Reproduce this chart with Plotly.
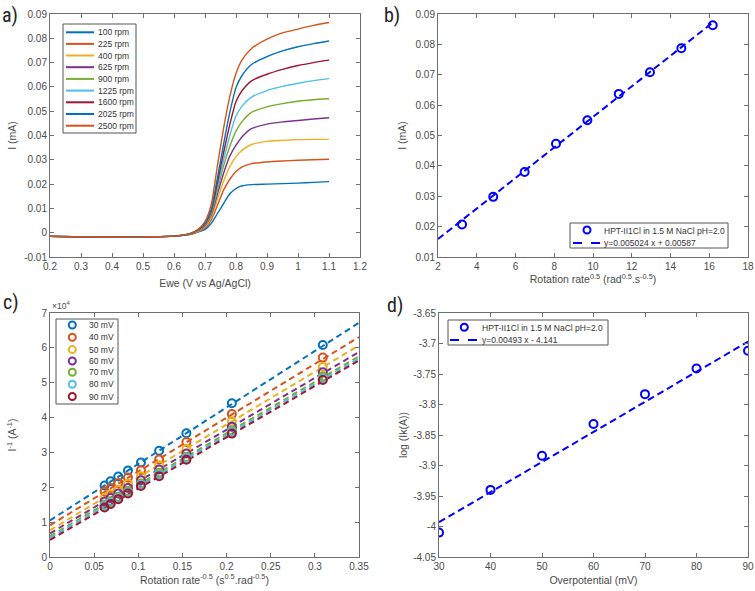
import plotly.graph_objects as go

W, H = 755, 591

# ---------------- Panel a data: LSV curves ----------------
ewe = [0.2, 0.35, 0.5, 0.6, 0.65, 0.68, 0.70, 0.72, 0.74, 0.76, 0.78, 0.80, 0.82, 0.85, 0.9, 0.95, 1.0, 1.05, 1.1]
rpm_labels = ["100 rpm", "225 rpm", "400 rpm", "625 rpm", "900 rpm", "1225 rpm", "1600 rpm", "2025 rpm", "2500 rpm"]
i_100  = [-0.0015, -0.0018, -0.0017, -0.0014, -0.0008, 0.0004, 0.0014, 0.0038, 0.0079, 0.0120, 0.0160, 0.0182, 0.0193, 0.0198, 0.0200, 0.0202, 0.0204, 0.0207, 0.0210]
i_225  = [-0.0015, -0.0018, -0.0017, -0.0014, -0.0007, 0.0006, 0.0020, 0.0052, 0.0112, 0.0175, 0.0220, 0.0252, 0.0271, 0.0284, 0.0291, 0.0295, 0.0298, 0.0300, 0.0302]
i_400  = [-0.0015, -0.0018, -0.0017, -0.0014, -0.0007, 0.0008, 0.0025, 0.0062, 0.0138, 0.0212, 0.0272, 0.0313, 0.0340, 0.0363, 0.0376, 0.0380, 0.0383, 0.0384, 0.0384]
i_625  = [-0.0015, -0.0018, -0.0017, -0.0014, -0.0006, 0.0010, 0.0030, 0.0072, 0.0158, 0.0245, 0.0315, 0.0360, 0.0395, 0.0428, 0.0447, 0.0456, 0.0462, 0.0468, 0.0473]
i_900  = [-0.0015, -0.0018, -0.0017, -0.0014, -0.0006, 0.0011, 0.0033, 0.0078, 0.0175, 0.0275, 0.0355, 0.0418, 0.0458, 0.0495, 0.0518, 0.0531, 0.0541, 0.0547, 0.0551]
i_1225 = [-0.0015, -0.0018, -0.0017, -0.0014, -0.0005, 0.0012, 0.0035, 0.0083, 0.0190, 0.0300, 0.0400, 0.0480, 0.0522, 0.0558, 0.0585, 0.0602, 0.0615, 0.0626, 0.0634]
i_1600 = [-0.0015, -0.0018, -0.0017, -0.0014, -0.0005, 0.0013, 0.0038, 0.0088, 0.0205, 0.0330, 0.0445, 0.0540, 0.0585, 0.0625, 0.0652, 0.0672, 0.0688, 0.0700, 0.0710]
i_2025 = [-0.0015, -0.0018, -0.0017, -0.0014, -0.0005, 0.0014, 0.0040, 0.0095, 0.0225, 0.0365, 0.0495, 0.0597, 0.0648, 0.0692, 0.0725, 0.0748, 0.0765, 0.0778, 0.0789]
i_2500 = [-0.0015, -0.0018, -0.0017, -0.0014, -0.0004, 0.0016, 0.0046, 0.0115, 0.0275, 0.0430, 0.0560, 0.0655, 0.0712, 0.0758, 0.0797, 0.0822, 0.0838, 0.0853, 0.0865]
lsv_curves = [i_100, i_225, i_400, i_625, i_900, i_1225, i_1600, i_2025, i_2500]
lsv_colors = ["#0072BD", "#D95319", "#EDB120", "#7E2F8E", "#77AC30", "#4DBEEE", "#A2142F", "#0072BD", "#D95319"]

# ---------------- Panel b data: Levich ----------------
rot_sqrt = [3.24, 4.85, 6.47, 8.09, 9.71, 11.33, 12.94, 14.56, 16.18]
i_lim = [0.0207, 0.0298, 0.0380, 0.0473, 0.0550, 0.0637, 0.0708, 0.0787, 0.0863]
levich_fit_x = [2.0, 16.2]
levich_fit_y = [0.0159, 0.0873]
legend_b = ["HPT-II1Cl in 1.5 M NaCl pH=2.0", "y=0.005024 x + 0.00587"]

# ---------------- Panel c data: Koutecky-Levich (units of 1e4 A^-1) ----------------
rot_inv_sqrt = [0.309, 0.206, 0.1545, 0.1236, 0.103, 0.0883, 0.0773, 0.0687, 0.0618]
kl_labels = ["30 mV", "40 mV", "50 mV", "60 mV", "70 mV", "80 mV", "90 mV"]
kl_30 = [6.08, 4.41, 3.55, 3.05, 2.71, 2.48, 2.31, 2.17, 2.05]
kl_40 = [5.72, 4.10, 3.30, 2.80, 2.49, 2.28, 2.12, 1.98, 1.88]
kl_50 = [5.45, 3.89, 3.10, 2.63, 2.32, 2.10, 1.93, 1.80, 1.70]
kl_60 = [5.30, 3.74, 2.97, 2.51, 2.20, 1.98, 1.82, 1.69, 1.59]
kl_70 = [5.18, 3.63, 2.87, 2.42, 2.11, 1.89, 1.73, 1.60, 1.50]
kl_80 = [5.12, 3.59, 2.83, 2.37, 2.07, 1.85, 1.69, 1.56, 1.46]
kl_90 = [5.08, 3.54, 2.79, 2.32, 2.04, 1.82, 1.66, 1.52, 1.42]
kl_points = [kl_30, kl_40, kl_50, kl_60, kl_70, kl_80, kl_90]
kl_fit_x = [0.0, 0.35]
kl_fit_30 = [1.05, 6.72]
kl_fit_40 = [0.91, 6.31]
kl_fit_50 = [0.77, 6.07]
kl_fit_60 = [0.68, 5.88]
kl_fit_70 = [0.60, 5.76]
kl_fit_80 = [0.55, 5.70]
kl_fit_90 = [0.49, 5.64]
kl_fits = [kl_fit_30, kl_fit_40, kl_fit_50, kl_fit_60, kl_fit_70, kl_fit_80, kl_fit_90]
kl_colors = ["#0072BD", "#D95319", "#EDB120", "#7E2F8E", "#77AC30", "#4DBEEE", "#A2142F"]

# ---------------- Panel d data: Tafel ----------------
overpot = [30, 40, 50, 60, 70, 80, 90]
log_ik = [-4.010, -3.940, -3.884, -3.832, -3.783, -3.741, -3.712]
tafel_fit_x = [30, 90]
tafel_fit_y = [-3.993, -3.697]
legend_d = ["HPT-II1Cl in 1.5 M NaCl pH=2.0", "y=0.00493 x - 4.141"]

# tick labels
a_xt = [0.2, 0.3, 0.4, 0.5, 0.6, 0.7, 0.8, 0.9, 1.0, 1.1, 1.2]
a_xl = ["0.2", "0.3", "0.4", "0.5", "0.6", "0.7", "0.8", "0.9", "1", "1.1", "1.2"]
a_yt = [-0.01, 0, 0.01, 0.02, 0.03, 0.04, 0.05, 0.06, 0.07, 0.08, 0.09]
a_yl = ["-0.01", "0", "0.01", "0.02", "0.03", "0.04", "0.05", "0.06", "0.07", "0.08", "0.09"]
b_xt = [2, 4, 6, 8, 10, 12, 14, 16, 18]
b_yt = [0.01, 0.02, 0.03, 0.04, 0.05, 0.06, 0.07, 0.08, 0.09]
b_yl = ["0.01", "0.02", "0.03", "0.04", "0.05", "0.06", "0.07", "0.08", "0.09"]
c_xt = [0, 0.05, 0.1, 0.15, 0.2, 0.25, 0.3, 0.35]
c_xl = ["0", "0.05", "0.1", "0.15", "0.2", "0.25", "0.3", "0.35"]
c_yt = [0, 1, 2, 3, 4, 5, 6, 7]
d_xt = [30, 40, 50, 60, 70, 80, 90]
d_yt = [-4.05, -4.0, -3.95, -3.9, -3.85, -3.8, -3.75, -3.7, -3.65]
d_yl = ["-4.05", "-4", "-3.95", "-3.9", "-3.85", "-3.8", "-3.75", "-3.7", "-3.65"]

FONT = "Liberation Sans, Arial, sans-serif"
TICKC = "#4a4a4a"
LINEC = "#6e6e6e"

def px(x):
    return x / W

def py(y):
    return 1 - y / H

fig = go.Figure()

# Panel a
for lab, yy, col in zip(rpm_labels, lsv_curves, lsv_colors):
    fig.add_trace(go.Scatter(x=ewe, y=yy, mode="lines", name=lab,
                             line=dict(color=col, width=1.4, shape="spline", smoothing=0.6),
                             xaxis="x", yaxis="y", showlegend=False))

# Panel b
fig.add_trace(go.Scatter(x=levich_fit_x, y=levich_fit_y, mode="lines",
                         line=dict(color="#0000FF", width=2, dash="7px,4px"),
                         xaxis="x2", yaxis="y2", showlegend=False))
fig.add_trace(go.Scatter(x=rot_sqrt, y=i_lim, mode="markers",
                         marker=dict(symbol="circle-open", size=8, color="#0000FF", line=dict(width=2)),
                         xaxis="x2", yaxis="y2", showlegend=False))

# Panel c
for yy, col in zip(kl_fits, kl_colors):
    fig.add_trace(go.Scatter(x=kl_fit_x, y=yy, mode="lines",
                             line=dict(color=col, width=2, dash="6px,4px"),
                             xaxis="x3", yaxis="y3", showlegend=False))
for lab, yy, col in zip(kl_labels, kl_points, kl_colors):
    fig.add_trace(go.Scatter(x=rot_inv_sqrt, y=yy, mode="markers", name=lab,
                             marker=dict(symbol="circle-open", size=8, color=col, line=dict(width=2)),
                             xaxis="x3", yaxis="y3", showlegend=False))

# Panel d
fig.add_trace(go.Scatter(x=tafel_fit_x, y=tafel_fit_y, mode="lines",
                         line=dict(color="#0000FF", width=2, dash="7px,4px"),
                         xaxis="x4", yaxis="y4", showlegend=False))
fig.add_trace(go.Scatter(x=overpot, y=log_ik, mode="markers",
                         marker=dict(symbol="circle-open", size=8, color="#0000FF", line=dict(width=2)),
                         xaxis="x4", yaxis="y4", showlegend=False))

def axis(domain, anchor, rng, tv, tt, title, standoff):
    return dict(domain=domain, anchor=anchor, range=rng, tickvals=tv, ticktext=tt,
                showgrid=False, zeroline=False, showline=True, linecolor=LINEC, linewidth=1,
                mirror="ticks", ticks="inside", ticklen=4, tickcolor=LINEC,
                ticklabeloverflow="allow", automargin=False,
                tickfont=dict(family=FONT, size=10, color=TICKC),
                title=dict(text=title, font=dict(family=FONT, size=10.5, color=TICKC), standoff=standoff))

dxa = [px(50), px(360)]
dxb = [px(438), px(748)]
dxc = [px(50), px(359)]
dxd = [px(439), px(748)]
dyt = [py(257), py(14)]
dyb = [py(557), py(313)]

fig.update_layout(
    width=W, height=H, margin=dict(l=0, r=0, t=0, b=0, autoexpand=False), autosize=False,
    paper_bgcolor="white", plot_bgcolor="white", showlegend=False,
    xaxis=axis(dxa, "y", [0.2, 1.2], a_xt, a_xl, "Ewe (V vs Ag/AgCl)", 8),
    yaxis=axis(dyt, "x", [-0.01, 0.09], a_yt, a_yl, "I (mA)", 5),
    xaxis2=axis(dxb, "y2", [2, 18], b_xt, [str(v) for v in b_xt],
                "Rotation rate<sup>0.5</sup> (rad<sup>0.5</sup>.s<sup>-0.5</sup>)", 3),
    yaxis2=axis(dyt, "x2", [0.01, 0.09], b_yt, b_yl, "I (mA)", 6),
    xaxis3=axis(dxc, "y3", [0, 0.35], c_xt, c_xl,
                "Rotation rate<sup>-0.5</sup> (s<sup>0.5</sup>.rad<sup>-0.5</sup>)", 5),
    yaxis3=axis(dyb, "x3", [0, 7], c_yt, [str(v) for v in c_yt], "I<sup>-1</sup> (A<sup>-1</sup>)", 22),
    xaxis4=axis(dxd, "y4", [30, 90], d_xt, [str(v) for v in d_xt], "Overpotential (mV)", 5),
    yaxis4=axis(dyb, "x4", [-4.05, -3.65], d_yt, d_yl, "log (Ik(A))", 3),
)

shapes = []
annotations = []
LEGF = dict(family=FONT, size=8.5, color="#333333")

def box(x0, y0, x1, y1):
    shapes.append(dict(type="rect", xref="paper", yref="paper", x0=px(x0), x1=px(x1),
                       y0=py(y1), y1=py(y0), line=dict(color="#555555", width=1), fillcolor="white", layer="above"))

def leg_line(x0, x1, y, col, dash="solid", width=2):
    shapes.append(dict(type="line", xref="paper", yref="paper", x0=px(x0), x1=px(x1),
                       y0=py(y), y1=py(y), line=dict(color=col, width=width, dash=dash), layer="above"))

def leg_circle(x, y, col):
    shapes.append(dict(type="circle", xref="paper", yref="paper", xsizemode="pixel", ysizemode="pixel",
                       xanchor=px(x), yanchor=py(y), x0=-3.5, x1=3.5, y0=-3.5, y1=3.5,
                       line=dict(color=col, width=2), layer="above"))

def leg_text(x, y, text):
    annotations.append(dict(xref="paper", yref="paper", x=px(x), y=py(y), text=text, showarrow=False,
                            xanchor="left", yanchor="middle", font=LEGF))

# Legend a
box(63, 24, 136, 133)
ya = [32.3, 43.9, 55.5, 67.2, 78.9, 90.6, 102.3, 114.0, 125.7]
for lab, col, yy in zip(rpm_labels, lsv_colors, ya):
    leg_line(66, 94, yy, col, width=2)
    leg_text(95.5, yy, lab)

# Legend b
box(570, 223, 728, 248)
leg_circle(587, 230, "#0000FF")
leg_text(602, 230.5, legend_b[0])
leg_line(573, 601, 243, "#0000FF", dash="dash")
leg_text(602, 243, legend_b[1])

# Legend c
box(56, 319, 118, 404)
yc = [325.0, 337.3, 349.6, 361.0, 372.3, 384.3, 396.5]
for lab, col, yy in zip(kl_labels, kl_colors, yc):
    leg_circle(72.3, yy, col)
    leg_text(87, yy, lab)

# Legend d
box(448, 320, 608, 345)
leg_circle(464.3, 327.3, "#0000FF")
leg_text(480, 327.8, legend_d[0])
leg_line(450, 480, 340, "#0000FF", dash="dash")
leg_text(480, 340, legend_d[1])

# x10^4 label for panel c
annotations.append(dict(xref="paper", yref="paper", x=px(50), y=py(305), text="×10<sup>4</sup>",
                        showarrow=False, xanchor="left", yanchor="middle",
                        font=dict(family=FONT, size=8.5, color=TICKC)))

# panel letters
PL = dict(family="Liberation Sans Narrow, Roboto Condensed, Arial Narrow, sans-serif", size=20, color="#222222")
for lab, x, y in [("a)", 0, 15), ("b)", 382, 15), ("c)", 1, 302), ("d)", 385, 305)]:
    annotations.append(dict(xref="paper", yref="paper", x=px(x), y=py(y), text=lab, showarrow=False,
                            xanchor="left", yanchor="middle", font=PL))

fig.update_layout(shapes=shapes, annotations=annotations)
fig.write_html("out.html", config={"displayModeBar": False},
               post_script="document.body.style.margin='0';document.body.style.padding='0';document.body.style.overflow='hidden';")
